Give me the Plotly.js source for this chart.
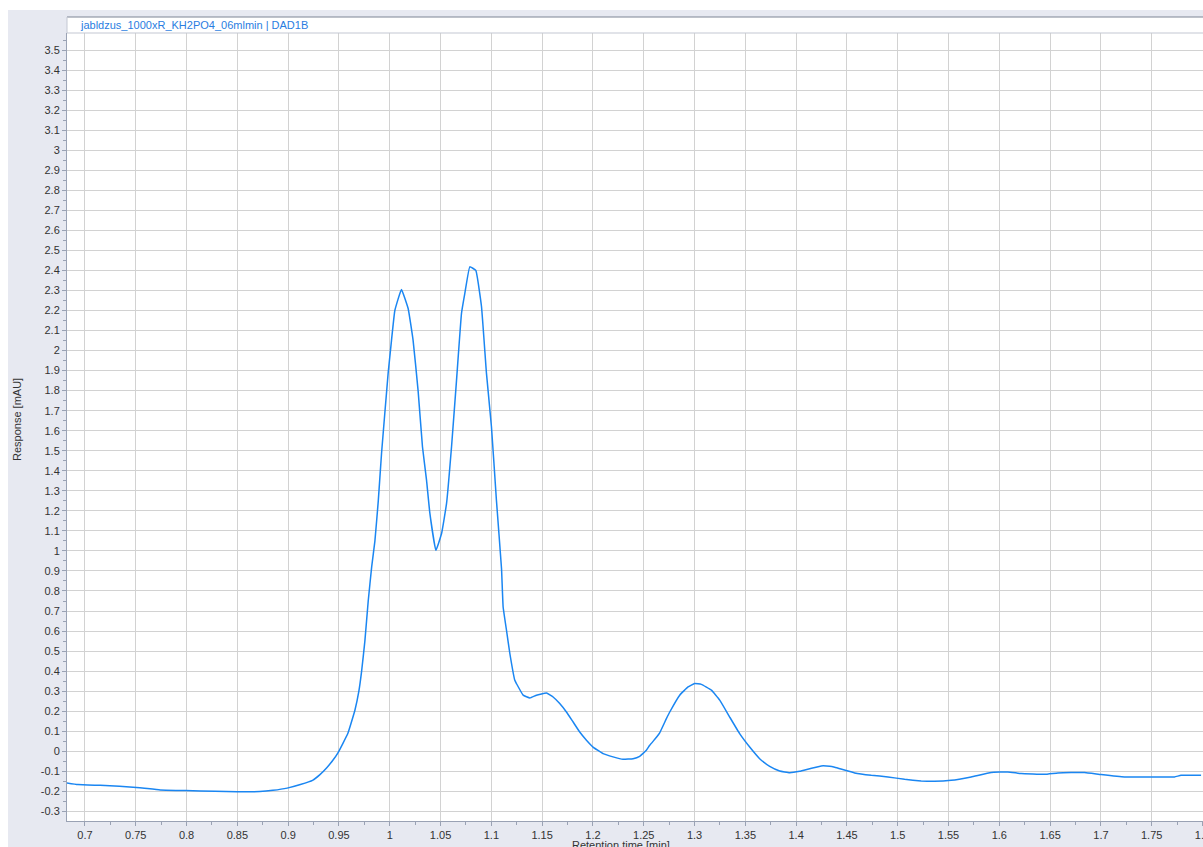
<!DOCTYPE html>
<html>
<head>
<meta charset="utf-8">
<script src="https://cdn.plot.ly/plotly-3.0.1.min.js"></script>
<style>html,body{margin:0;padding:0;background:#fff;}#chart{width:1203px;height:847px;}</style>
</head>
<body>
<div id="chart"></div>
<script>
const chartTitle = "jabldzus_1000xR_KH2PO4_06mlmin | DAD1B";
const xAxisTitle = "Retention time [min]";
const yAxisTitle = "Response [mAU]";

const retentionTime = [
  0.682, 0.693, 0.715, 0.734, 0.754, 0.774, 0.799, 0.828, 0.850, 0.872,
  0.885, 0.899, 0.912, 0.924, 0.931, 0.938, 0.944, 0.949, 0.9588, 0.9657, 0.9696, 0.9723,
  0.9755, 0.9788, 0.9822, 0.9854, 0.9887, 0.9919, 0.9984, 1.0017, 1.0050, 1.0115,
  1.0181, 1.0230, 1.0279, 1.0322, 1.0362, 1.0395, 1.0454, 1.0510, 1.0559, 1.0608,
  1.0657, 1.0706, 1.0739, 1.0788, 1.0847, 1.0903, 1.0952, 1.1001, 1.1050, 1.1100,
  1.1116, 1.1149, 1.1182, 1.1231, 1.1247, 1.1313, 1.1379, 1.1444, 1.1543, 1.1608,
  1.1673, 1.1739, 1.1805, 1.1870, 1.1936, 1.2001, 1.2100, 1.2198, 1.2296, 1.2395,
  1.2460, 1.2526, 1.2559, 1.2625, 1.2657, 1.2723, 1.2756, 1.2854, 1.2936, 1.3001,
  1.3067, 1.3166, 1.3248, 1.3346, 1.3444, 1.3543, 1.3641, 1.3740, 1.3838, 1.3936,
  1.4035, 1.4133, 1.4248, 1.4330, 1.4380, 1.4576, 1.4740, 1.4904, 1.5068, 1.5231,
  1.5362, 1.5526, 1.5723, 1.5920, 1.6084, 1.6215, 1.6445, 1.6576, 1.6707, 1.6838,
  1.7002, 1.7232, 1.7494, 1.7724, 1.7789, 1.7986
];
const response = [
  -0.158, -0.166, -0.170, -0.175, -0.182, -0.193, -0.196, -0.200, -0.202, -0.201,
  -0.195, -0.184, -0.166, -0.145, -0.118, -0.082, -0.045, -0.008, 0.090, 0.205, 0.300, 0.400,
  0.550, 0.750, 0.920, 1.050, 1.250, 1.486, 1.886, 2.050, 2.200, 2.305,
  2.210, 2.050, 1.800, 1.520, 1.353, 1.187, 1.003, 1.087, 1.237, 1.520,
  1.850, 2.185, 2.285, 2.418, 2.400, 2.220, 1.886, 1.620, 1.253, 0.912,
  0.720, 0.604, 0.488, 0.354, 0.338, 0.280, 0.266, 0.280, 0.291, 0.271,
  0.238, 0.196, 0.146, 0.096, 0.055, 0.021, -0.012, -0.028, -0.040, -0.037,
  -0.025, 0.005, 0.030, 0.070, 0.092, 0.163, 0.196, 0.280, 0.321, 0.338,
  0.334, 0.305, 0.255, 0.171, 0.088, 0.021, -0.037, -0.075, -0.098, -0.107,
  -0.100, -0.087, -0.073, -0.075, -0.080, -0.108, -0.120, -0.128, -0.140, -0.148,
  -0.150, -0.145, -0.128, -0.106, -0.103, -0.111, -0.115, -0.108, -0.106, -0.106,
  -0.116, -0.128, -0.128, -0.128, -0.120, -0.120
];

const xTickVals = [0.7, 0.75, 0.8, 0.85, 0.9, 0.95, 1, 1.05, 1.1, 1.15, 1.2, 1.25, 1.3, 1.35, 1.4, 1.45, 1.5, 1.55, 1.6, 1.65, 1.7, 1.75, 1.8];
const xTickText = ["0.7", "0.75", "0.8", "0.85", "0.9", "0.95", "1", "1.05", "1.1", "1.15", "1.2", "1.25", "1.3", "1.35", "1.4", "1.45", "1.5", "1.55", "1.6", "1.65", "1.7", "1.75", "1.8"];
const yTickVals = [-0.3, -0.2, -0.1, 0, 0.1, 0.2, 0.3, 0.4, 0.5, 0.6, 0.7, 0.8, 0.9, 1, 1.1, 1.2, 1.3, 1.4, 1.5, 1.6, 1.7, 1.8, 1.9, 2, 2.1, 2.2, 2.3, 2.4, 2.5, 2.6, 2.7, 2.8, 2.9, 3, 3.1, 3.2, 3.3, 3.4, 3.5];
const yTickText = ["-0.3", "-0.2", "-0.1", "0", "0.1", "0.2", "0.3", "0.4", "0.5", "0.6", "0.7", "0.8", "0.9", "1", "1.1", "1.2", "1.3", "1.4", "1.5", "1.6", "1.7", "1.8", "1.9", "2", "2.1", "2.2", "2.3", "2.4", "2.5", "2.6", "2.7", "2.8", "2.9", "3", "3.1", "3.2", "3.3", "3.4", "3.5"];

const W = 1203, H = 847;
const L = 67, R = 0, T = 33, B = 26;
const pw = W - L - R, ph = H - T - B;
const px = v => (v - L) / pw;          // pixel x -> paper x
const py = v => (H - B - v) / ph;      // pixel y -> paper y

const font = {family: "Liberation Sans, Arial, sans-serif", size: 11, color: "#333333"};
const gridColor = "#d2d2d2";
const axisLine = "#9aa2b4";

const trace = {
  x: retentionTime, y: response, type: "scatter", mode: "lines",
  line: {color: "#1a86f2", width: 1.5, shape: "spline", smoothing: 0.3},
  hoverinfo: "skip"
};

const layout = {
  width: W, height: H,
  margin: {l: L, r: R, t: T, b: B, pad: 0},
  paper_bgcolor: "#e7e9f1",
  plot_bgcolor: "#ffffff",
  font: font,
  showlegend: false,
  xaxis: {
    range: [0.6823, 1.8005], tickmode: "array", tickvals: xTickVals, ticktext: xTickText,
    showgrid: true, gridcolor: gridColor, gridwidth: 1, zeroline: false,
    showline: true, linecolor: axisLine, linewidth: 1,
    ticks: "outside", ticklen: 4, tickcolor: axisLine, tickfont: font,
    ticklabeloverflow: "allow",
    minor: {dtick: 0.025, tick0: 0.7, ticks: "outside", ticklen: 3, tickcolor: axisLine, showgrid: false},
    fixedrange: true
  },
  yaxis: {
    range: [-0.348, 3.585], tickmode: "array", tickvals: yTickVals, ticktext: yTickText,
    showgrid: true, gridcolor: gridColor, gridwidth: 1, zeroline: false,
    showline: true, linecolor: axisLine, linewidth: 1,
    ticks: "outside", ticklen: 4, tickcolor: axisLine, tickfont: font,
    minor: {dtick: 0.05, tick0: 0, ticks: "outside", ticklen: 3, tickcolor: axisLine, showgrid: false},
    fixedrange: true
  },
  shapes: [
    {type: "rect", xref: "paper", yref: "paper", x0: px(-5), x1: px(W + 5), y0: py(10), y1: py(-5), fillcolor: "#ffffff", line: {width: 0}, layer: "below"},
    {type: "rect", xref: "paper", yref: "paper", x0: px(-5), x1: px(8), y0: py(H + 5), y1: py(-5), fillcolor: "#ffffff", line: {width: 0}, layer: "below"},
    {type: "rect", xref: "paper", yref: "paper", x0: px(L), x1: px(W + 5), y0: py(33), y1: py(17), fillcolor: "#ffffff", line: {width: 0}, layer: "below"},
    {type: "line", xref: "paper", yref: "paper", x0: px(L), x1: px(W + 5), y0: py(17), y1: py(17), line: {color: "#7d8494", width: 1}},
    {type: "line", xref: "paper", yref: "paper", x0: px(L), x1: px(W + 5), y0: py(33), y1: py(33), line: {color: "#c3c7d2", width: 1}},
    {type: "line", xref: "paper", yref: "paper", x0: px(L), x1: px(L), y0: py(33), y1: py(17), line: {color: "#c3c7d2", width: 1}}
  ],
  annotations: [
    {text: chartTitle, xref: "paper", yref: "paper", x: px(78), y: py(25), xanchor: "left", yanchor: "middle", showarrow: false,
     font: {family: "Liberation Sans, Arial, sans-serif", size: 11, color: "#2a7de1"}},
    {text: yAxisTitle, xref: "paper", yref: "paper", x: px(17), y: py(420), xanchor: "center", yanchor: "middle", textangle: -90, showarrow: false, font: font},
    {text: xAxisTitle, xref: "paper", yref: "paper", x: px(621), y: py(845), xanchor: "center", yanchor: "middle", showarrow: false, font: font}
  ]
};

Plotly.newPlot("chart", [trace], layout, {displayModeBar: false, staticPlot: true});
</script>
</body>
</html>
